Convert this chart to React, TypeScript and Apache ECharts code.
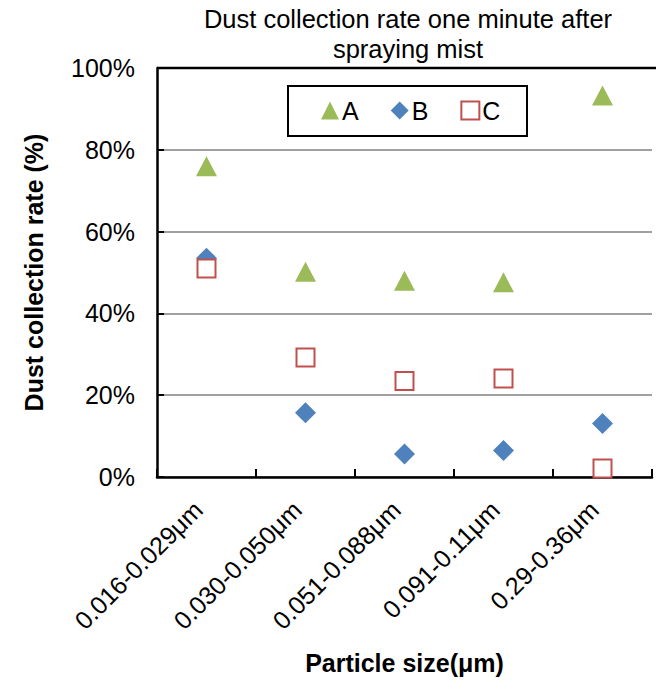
import React, { useEffect, useRef } from "react";
import * as echarts from "echarts";

const categories = ["0.016-0.029μm", "0.030-0.050μm", "0.051-0.088μm", "0.091-0.11μm", "0.29-0.36μm"];
const seriesA = [76, 50.2, 48, 47.6, 93.3];
const seriesB = [53.5, 15.7, 5.6, 6.5, 13.1];
const seriesC = [51, 29.2, 23.5, 24.1, 2.1];
const yTicks = [0, 20, 40, 60, 80, 100];

const FONT = "'Liberation Sans', Arial, sans-serif";

export default function App() {
  const ref = useRef<HTMLDivElement>(null);
  useEffect(() => {
    if (!ref.current) return;
    const chart = echarts.init(ref.current, null, { renderer: "svg" });
    chart.setOption({
      animation: false,
      backgroundColor: "#fff",
      textStyle: { fontFamily: FONT },
      title: {
        text: "Dust collection rate one minute after\nspraying mist",
        left: 403,
        textAlign: "center",
        top: -1,
        textStyle: { fontFamily: FONT, fontSize: 25.5, fontWeight: "normal", color: "#000", lineHeight: 30 },
      },
      legend: {
        left: 321,
        top: 98,
        padding: 0,
        itemGap: 32,
        itemWidth: 18,
        itemHeight: 18,
        textStyle: { fontFamily: FONT, fontSize: 25, color: "#000", padding: [0, 0, 0, -2] },
        data: [
          { name: "A", icon: "triangle" },
          { name: "B", icon: "diamond" },
          { name: "C", icon: "rect", itemStyle: { color: "#fff", borderColor: "#C0504D", borderWidth: 2 } },
        ],
      },
      grid: { left: 157, right: 4, top: 68, bottom: 204 },
      xAxis: {
        type: "category",
        data: categories,
        boundaryGap: true,
        axisLine: { show: true, lineStyle: { color: "#000", width: 2.5 } },
        axisTick: { show: true, inside: true, length: 8, lineStyle: { color: "#000", width: 2 } },
        axisLabel: {
          rotate: 45,
          fontSize: 25,
          color: "#000",
          fontFamily: FONT,
          margin: 20,
          interval: 0,
          padding: [0, 12, 0, 0],
        },
        name: "Particle size(μm)",
        nameLocation: "middle",
        nameGap: 173,
        nameTextStyle: { fontFamily: FONT, fontSize: 25, fontWeight: "bold", color: "#000" },
      },
      yAxis: {
        type: "value",
        min: yTicks[0],
        max: yTicks[yTicks.length - 1],
        interval: 20,
        axisLine: { show: true, lineStyle: { color: "#000", width: 2.5 } },
        axisTick: { show: true, inside: true, length: 7, lineStyle: { color: "#000", width: 2 } },
        axisLabel: { formatter: "{value}%", fontSize: 25, color: "#000", fontFamily: FONT, margin: 22 },
        splitLine: { show: true, lineStyle: { color: "#A0A0A0", width: 2 } },
        name: "Dust collection rate (%)",
        nameLocation: "middle",
        nameGap: 111,
        nameTextStyle: { fontFamily: FONT, fontSize: 25, fontWeight: "bold", color: "#000" },
      },
      graphic: [
        {
          type: "line",
          shape: { x1: 157, y1: 68, x2: 656, y2: 68 },
          style: { stroke: "#000", lineWidth: 2.5 },
          z: 10,
        },
        {
          type: "rect",
          shape: { x: 288, y: 86, width: 239, height: 50 },
          style: { stroke: "#000", lineWidth: 2, fill: "#fff" },
          z: 0,
        },
      ],
      series: [
        {
          name: "A",
          type: "scatter",
          data: seriesA,
          symbol: "triangle",
          symbolSize: [21, 20],
          itemStyle: { color: "#9BBB59", opacity: 1 },
          z: 3,
        },
        {
          name: "B",
          type: "scatter",
          data: seriesB,
          symbol: "diamond",
          symbolSize: [21, 21],
          itemStyle: { color: "#4F81BD", opacity: 1 },
          z: 2,
        },
        {
          name: "C",
          type: "scatter",
          data: seriesC,
          symbol: "rect",
          symbolSize: [18, 18],
          itemStyle: { color: "#fff", borderColor: "#C0504D", borderWidth: 2, opacity: 1 },
          z: 4,
        },
      ],
    });
    return () => chart.dispose();
  }, []);
  return (
    <div
      ref={ref}
      style={{ width: 656, height: 681, position: "absolute", left: 0, top: 0 }}
    />
  );
}
